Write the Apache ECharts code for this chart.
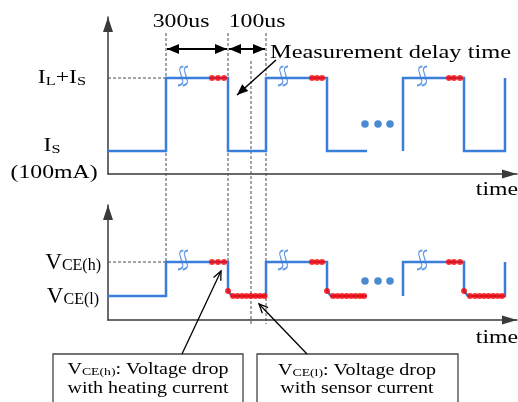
<!DOCTYPE html>
<html><head><meta charset="utf-8">
<script src="https://cdn.jsdelivr.net/npm/echarts@6/dist/echarts.min.js"></script>
<style>html,body{margin:0;padding:0;background:#fff}#c{width:518px;height:402px}</style>
</head><body><div id="c"></div>
<script>
// ---------------- data (schematic units) ----------------
const timeAxisMax = 409;              // time axis extent
const currentAxisMax = 157;           // current axis extent
const voltageAxisMax = 115;           // voltage axis extent
const currentLevels = [23, 96];       // Is (100mA), IL+Is
const voltageLevels = [24, 58];       // VCE(l), VCE(h)
const edgeTimes = [58, 120, 143, 158];// heating on, heating off, measurement, next heating on

const currentWaveA = [[0,23],[58,23],[58,96],[120,96],[120,23],[158,23],[158,96],[219,96],[219,23],[259,23]];
const currentWaveB = [[295,23],[295,96],[356,96],[356,23],[397,23],[397,96]];
const voltageWaveA = [[0,24],[58,24],[58,58],[120,58],[120,29],[124,24],[158,24],[158,58],[219,58],[219,29],[223,24],[259,24]];
const voltageWaveB = [[295,24],[295,58],[356,58],[356,29],[360,24],[397,24],[397,58]];

const heatSamplesCurrent = [[104,96],[110,96],[116,96],[204,96],[209,96],[214,96],[341,96],[346,96],[352,96]];
const heatSamplesVoltage = [[104,58],[110,58],[116,58],[204,58],[209,58],[214,58],[341,58],[346,58],[352,58]];
const sensorSamplesVoltage = [
  [120,29],[125,24],[129.5,24],[134,24],[138.5,24],[143,24],[147.5,24],[152,24],[156.5,24],
  [219,29],[225,24],[229.5,24],[234,24],[238.5,24],[243,24],[247.5,24],[252,24],[256,24],
  [356,29],[362,24],[367,24],[371.5,24],[376,24],[380.5,24],[385,24],[389.5,24],[394,24]
];
const ellipsisCurrent = [[257,50],[270,50],[282,50]];
const ellipsisVoltage = [[257,39],[270,39],[282,39]];
const breakMarksCurrent = [[75,96],[175,96],[314,96]];
const breakMarksVoltage = [[75,58],[175,58],[314,58]];

const intervalLabels = ['300us', '100us'];
const axisTitle = 'time';

// ---------------- styles ----------------
const BLUE = '#3a7edb';
const RED = '#ff0000';
const DOTBLUE = '#1b6ec6';
const AXIS = '#3a3a3a';
const INK = '#000';
const FONT = '"Liberation Serif", "Times New Roman", serif';
const SX = 1.25;

const chart = echarts.init(document.getElementById('c'), null, {renderer: 'canvas'});

function mkX(i) {
  return {type:'value', gridIndex:i, min:0, max:timeAxisMax,
    axisLine:{show:true, onZero:false, lineStyle:{color:AXIS, width:1.5},
      symbol:['none','triangle'], symbolSize:[9,15], symbolOffset:[0,-7.5]},
    axisTick:{show:false}, axisLabel:{show:false}, splitLine:{show:false}};
}
function mkY(i, max) {
  return {type:'value', gridIndex:i, min:0, max:max,
    axisLine:{show:true, onZero:false, lineStyle:{color:AXIS, width:1.5},
      symbol:['none','triangle'], symbolSize:[10,15], symbolOffset:[0,-7.5]},
    axisTick:{show:false}, axisLabel:{show:false}, splitLine:{show:false}};
}
function wave(data, i) {
  return {type:'line', xAxisIndex:i, yAxisIndex:i, data, symbol:'none', showSymbol:false,
    lineStyle:{color:BLUE, width:2.5, join:'miter'}, z:3, clip:false, silent:true};
}
function dots(data, i, color, size, z) {
  return {type:'scatter', xAxisIndex:i, yAxisIndex:i, data, symbolSize:size,
    itemStyle:{color}, z:z||5, clip:false, silent:true};
}
const breakPath = 'path://M5,0 C2.5,0 1.5,2.5 2.8,5.5 L4.2,11.5 C5.5,14.5 3.5,17 1,17 M8.5,0 C6,0 5,2.5 6.3,5.5 L7.7,11.5 C9,14.5 7,17 4.5,17';
function breaks(data, i) {
  return {type:'scatter', xAxisIndex:i, yAxisIndex:i, data, symbol:breakPath, symbolSize:[10,19],
    symbolOffset:[0,-2], itemStyle:{color:'none', borderColor:BLUE, borderWidth:1.5}, z:6, clip:false, silent:true};
}

chart.setOption({
  animation:false,
  grid:[{left:108, top:17, width:409, height:157}, {left:108, top:205, width:409, height:115}],
  xAxis:[mkX(0), mkX(1)],
  yAxis:[mkY(0, currentAxisMax), mkY(1, voltageAxisMax)],
  series:[
    wave(currentWaveA,0), wave(currentWaveB,0),
    wave(voltageWaveA,1), wave(voltageWaveB,1),
    dots(heatSamplesCurrent,0,RED,6), dots(heatSamplesVoltage,1,RED,6), dots(sensorSamplesVoltage,1,RED,6),
    dots(ellipsisCurrent,0,DOTBLUE,7.5), dots(ellipsisVoltage,1,DOTBLUE,7.5),
    breaks(breakMarksCurrent,0), breaks(breakMarksVoltage,1)
  ]
});

// ---------------- annotations ----------------
const P0 = (t,v) => chart.convertToPixel({gridIndex:0}, [t,v]);
const P1 = (t,v) => chart.convertToPixel({gridIndex:1}, [t,v]);
const L = {dashTop:33, measDashTop:61, dashBottom:324, arrowY:49, titleY:22};

const xOn = P0(edgeTimes[0],0)[0], xOff = P0(edgeTimes[1],0)[0], xMeas = P0(edgeTimes[2],0)[0], xOn2 = P0(edgeTimes[3],0)[0];
const x0 = P0(0,0)[0];
const yHiC = P0(0,currentLevels[1])[1], yLoC = P0(0,currentLevels[0])[1];
const yHiV = P1(0,voltageLevels[1])[1], yLoV = P1(0,voltageLevels[0])[1];
const yAxisC = P0(0,0)[1], yAxisV = P1(0,0)[1];

const G = [];
const dash = {stroke:'#4a4a4a', lineWidth:1, lineDash:[3,2]};
function seg(x1,y1,x2,y2,style){ G.push({type:'line', silent:true, z:1, shape:{x1,y1,x2,y2}, style}); }
seg(xOn, L.dashTop, xOn, yHiV, dash);
seg(xOff, L.dashTop, xOff, yHiV, dash);
seg(xMeas, L.measDashTop, xMeas, L.dashBottom, dash);
seg(xOn2, L.dashTop, xOn2, L.dashBottom, dash);
seg(x0, yHiC, xOn, yHiC, dash);
seg(x0, yHiV, xOn, yHiV, dash);

function head(tip, from, len, half, filled, lw) {
  const dx = tip[0]-from[0], dy = tip[1]-from[1], d = Math.hypot(dx,dy), ux = dx/d, uy = dy/d;
  const bx = tip[0]-ux*len, by = tip[1]-uy*len;
  const a = [bx-uy*half, by+ux*half], b = [bx+uy*half, by-ux*half];
  if (filled) G.push({type:'polygon', silent:true, z:12, shape:{points:[tip,a,b]}, style:{fill:INK}});
  else G.push({type:'polyline', silent:true, z:12, shape:{points:[a,tip,b]}, style:{stroke:INK, lineWidth:lw||1.3, fill:'none'}});
}
function arrow(from, to, lw, len, half, filled, both) {
  G.push({type:'line', silent:true, z:11, shape:{x1:from[0],y1:from[1],x2:to[0],y2:to[1]}, style:{stroke:INK, lineWidth:lw}});
  head(to, from, len, half, filled, lw);
  if (both) head(from, to, len, half, filled, lw);
}
arrow([xOn+1, L.arrowY], [xOff-1, L.arrowY], 2, 12, 5, true, true);
arrow([xOff+1, L.arrowY], [xOn2-1, L.arrowY], 2, 12, 5, true, true);
arrow([276, 60], [237, 95], 1.5, 11, 4.5, true, false);
arrow([182, 354], [221, 271], 1.3, 9, 4, false, false);
arrow([307, 354], [259, 304], 1.3, 9, 4, false, false);

// boxes
G.push({type:'rect', silent:true, z:9, shape:{x:53, y:354, width:190, height:60}, style:{fill:'#fff', stroke:'#444', lineWidth:1.3}});
G.push({type:'rect', silent:true, z:9, shape:{x:257, y:354, width:201, height:60}, style:{fill:'#fff', stroke:'#444', lineWidth:1.3}});

function rich(b, s) {
  return {
    b:{fontSize:b, fontFamily:FONT, lineHeight:Math.round(b*1.05), verticalAlign:'bottom', fill:INK},
    s:{fontSize:s, fontFamily:FONT, lineHeight:Math.round(s*1.05), verticalAlign:'bottom', fill:INK}
  };
}
function text(x, y, str, size, align, opt) {
  opt = opt || {};
  const st = {text:str, x:0, y:0, font:size+'px '+FONT, fill:INK,
    align:align, verticalAlign:'middle', textAlign:align, textVerticalAlign:'middle'};
  if (opt.rich) st.rich = opt.rich;
  G.push({type:'text', silent:true, z:20, x, y, scaleX: opt.sx || SX, style:st});
}
// titles over intervals
text(181, L.titleY, intervalLabels[0], 19, 'center');
text(257, L.titleY, intervalLabels[1], 19, 'center');
text(270, 53, 'Measurement delay time', 19.5, 'left');
// axis titles
text(518, yAxisC + 16, axisTitle, 19, 'right');
text(518, yAxisV + 18, axisTitle, 19, 'right');
// current level labels
text(86, yHiC, '{b|I}{s|L}{b|+I}{s|S}', 19, 'right', {rich:rich(19,13)});
text(52, yLoC - 5, '{b|I}{s|S}', 19, 'center', {rich:rich(19,13)});
text(54, yAxisC - 1, '(100mA)', 19, 'center');
// voltage level labels
text(101, yHiV, '{b|V}{s|CE(h)}', 23, 'right', {rich:rich(23,16), sx:1.0});
text(99, yLoV, '{b|V}{s|CE(l)}', 23, 'right', {rich:rich(23,16), sx:1.0});
// box texts
text(148, 369, '{b|V}{s|CE(h)}{b|: Voltage drop}', 16, 'center', {rich:rich(16,11)});
text(148, 389, 'with heating current', 16, 'center');
text(357, 370, '{b|V}{s|CE(l)}{b|: Voltage drop}', 16, 'center', {rich:rich(16,11)});
text(357, 389, 'with sensor current', 16, 'center');

chart.setOption({graphic: G});
</script>
</body></html>
